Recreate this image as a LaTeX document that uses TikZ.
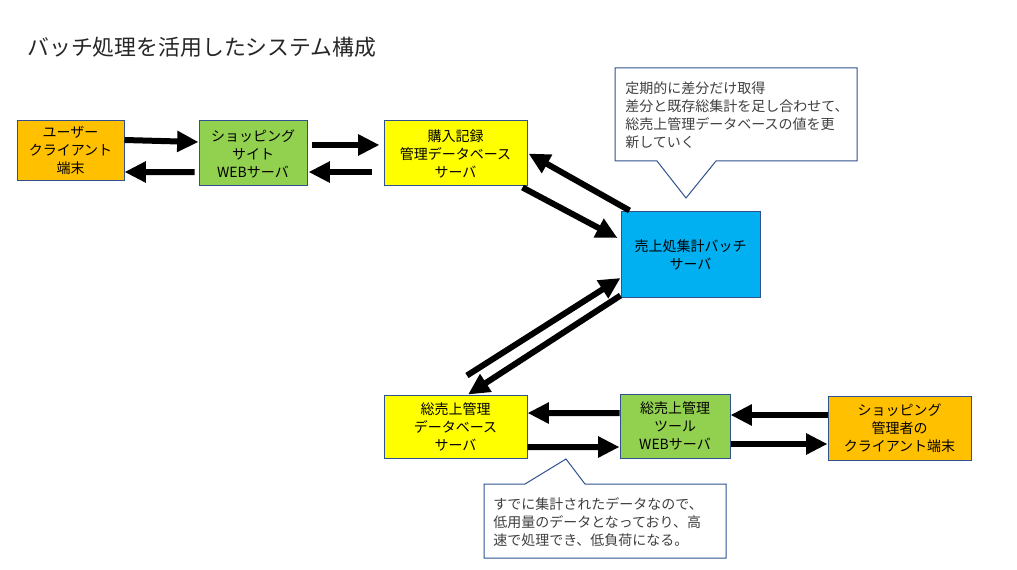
\documentclass[tikz,border=0pt]{standalone}
\usepackage{fontspec}
\setmainfont{Noto Sans CJK JP}
\usepackage{tikz}
\usetikzlibrary{arrows.meta}
\definecolor{boxorange}{HTML}{FFC000}
\definecolor{boxgreen}{HTML}{92D050}
\definecolor{boxyellow}{HTML}{FFFF00}
\definecolor{boxcyan}{HTML}{00B0F0}
\definecolor{boxline}{HTML}{2F528F}
\definecolor{notetext}{HTML}{404040}
\tikzset{
  box/.style={draw=boxline,line width=0.75pt,inner sep=0pt,align=center,
    font=\fontsize{10.5}{13.5}\selectfont,text=black},
  bigarrow/.style={line width=4.5pt,-{Triangle[length=16pt,width=15pt]}},
  note/.style={draw=boxline,fill=white,line width=0.75pt,line join=miter},
  notetxt/.style={anchor=north west,inner sep=0pt,align=left,
    font=\fontsize{10.5}{13.5}\selectfont,text=notetext}
}

\begin{document}
\begin{tikzpicture}[x=0.75pt,y=-0.75pt]
      \useasboundingbox (0,0) rectangle (1017,570);
      \node[anchor=west,inner sep=0pt,font=\fontsize{16.4}{20}\selectfont,text=black!85] (title) at (27,47) {バッチ処理を活用したシステム構成};

      % upper row
      \node[box,fill=boxorange,minimum width=80.25pt,minimum height=45pt] (user) at (70.5,151) {ユーザー\\クライアント\\端末};
      \node[box,fill=boxgreen,minimum width=81pt,minimum height=48.75pt] (site) at (253,153.5) {ショッピング\\サイト\\WEBサーバ};
      \node[box,fill=boxyellow,minimum width=107.25pt,minimum height=48.75pt] (buydb) at (455.5,153.5) {購入記録\\管理データベース\\サーバ};

      % batch
      \node[box,fill=boxcyan,minimum width=104.25pt,minimum height=64.5pt] (batch) at (690.5,255) {売上処集計バッチ\\サーバ};

      % lower row
      \node[box,fill=boxyellow,minimum width=107.25pt,minimum height=47.25pt] (salesdb) at (455.5,426.5) {総売上管理\\データベース\\サーバ};
      \node[box,fill=boxgreen,minimum width=82.5pt,minimum height=48pt] (tool) at (675,426) {総売上管理\\ツール\\WEBサーバ};
      \node[box,fill=boxorange,minimum width=107.25pt,minimum height=48pt] (admin) at (899.5,428) {ショッピング\\管理者の\\クライアント端末};

      % arrows
      \draw[bigarrow] ([yshift=8.25pt]user.east) -- ([yshift=8.6pt]site.west);
      \draw[bigarrow] ([xshift=-3pt,yshift=-13.9pt]site.west) -- ([yshift=-15.75pt]user.east);
      \draw[bigarrow] ([xshift=3pt,yshift=6.4pt]site.east) -- ([xshift=-3pt,yshift=6.4pt]buydb.west);
      \draw[bigarrow] ([xshift=-9pt,yshift=-13.9pt]buydb.west) -- ([xshift=0.75pt,yshift=-13.9pt]site.east);
      \draw[bigarrow] ([xshift=-3.75pt,yshift=-0.75pt]buydb.south east) -- ([xshift=-2.25pt,yshift=12.75pt]batch.west);
      \draw[bigarrow] ([xshift=6.75pt,yshift=0.75pt]batch.north west) -- ([xshift=0.75pt]buydb.east);
      \draw[bigarrow] ([xshift=8.6pt,yshift=14.25pt]salesdb.north) -- ([yshift=-17.25pt]batch.west);
      \draw[bigarrow] ([yshift=2.25pt]batch.south west) -- ([xshift=9.4pt]salesdb.north);
      \draw[bigarrow] ([yshift=9.75pt]tool.west) -- ([yshift=10.1pt]salesdb.east);
      \draw[bigarrow] ([yshift=-15.4pt]salesdb.east) -- ([yshift=-15.75pt]tool.west);
      \draw[bigarrow] ([yshift=9.75pt]admin.west) -- ([yshift=8.25pt]tool.east);
      \draw[bigarrow] ([yshift=-13.5pt]tool.east) -- ([yshift=-12pt]admin.west);

      % callouts
      \draw[note] (615,68) -- (857,68) -- (857,161) -- (716,161) -- (686,198) -- (657,161) -- (615,161) -- cycle;
      \node[notetxt] (note1) at (625,81) {定期的に差分だけ取得\\差分と既存総集計を足し合わせて、\\総売上管理データベースの値を更\\新していく};
      \draw[note] (484,484) -- (525,484) -- (566,459) -- (585,484) -- (726,484) -- (726,558) -- (484,558) -- cycle;
      \node[notetxt] (note2) at (493,497) {すでに集計されたデータなので、\\低用量のデータとなっており、高\\速で処理でき、低負荷になる。};
\end{tikzpicture}
\end{document}
